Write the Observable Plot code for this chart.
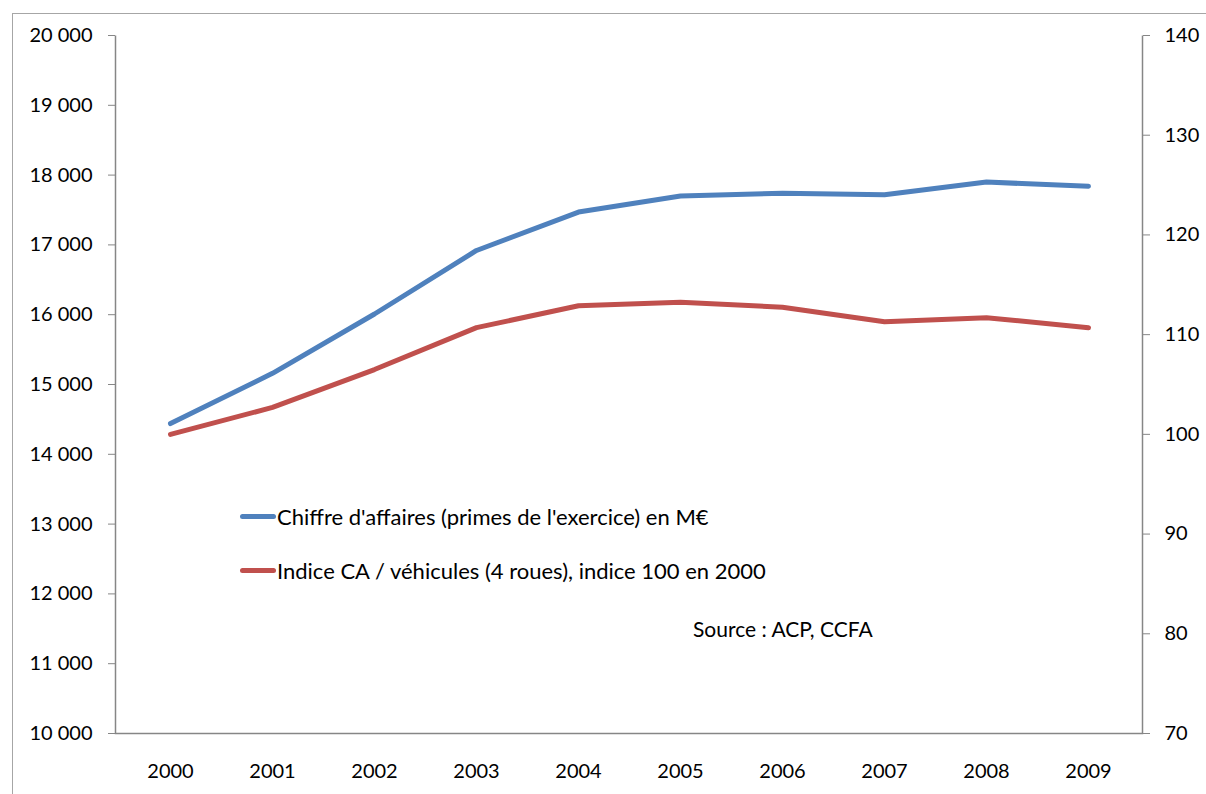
<!DOCTYPE html>
<html>
<head>
<meta charset="utf-8">
<script src="https://cdn.jsdelivr.net/npm/d3@7"></script>
<script src="https://cdn.jsdelivr.net/npm/@observablehq/plot@0.6"></script>
<style>
  html, body { margin: 0; padding: 0; background: #fff; }
  #wrap { position: relative; width: 1206px; height: 794px; overflow: hidden; font-family: Lato, "Open Sans", sans-serif; color: #000; }
  #frame { position: absolute; left: 12px; top: 13px; width: 1400px; height: 1000px; border: 1px solid #a6a6a6; box-sizing: border-box; pointer-events: none; }
  #chart { position: absolute; left: 0; top: 0; }
  .leg { position: absolute; left: 240px; font-size: 22px; white-space: nowrap; display: flex; align-items: center; height: 30px; }
  .sw { display: inline-block; width: 36px; height: 5px; border-radius: 3px; margin-right: 1px; }
  #source { position: absolute; left: 693px; top: 616px; font-size: 21px; white-space: nowrap; }
</style>
</head>
<body>
<div id="wrap">
  <div id="frame"></div>
  <div id="chart"></div>
  <div class="leg" id="leg1" style="top:501px"><span class="sw" style="background:#4F81BD"></span><span id="t1"></span></div>
  <div class="leg" id="leg2" style="top:555px"><span class="sw" style="background:#C0504D"></span><span id="t2"></span></div>
  <div id="source"></div>
</div>
<script>
const years = ["2000","2001","2002","2003","2004","2005","2006","2007","2008","2009"];
const chiffreAffaires = [14440, 15160, 16010, 16920, 17470, 17700, 17740, 17720, 17900, 17840];
const indiceCA = [100.0, 102.7, 106.5, 110.7, 112.9, 113.25, 112.75, 111.3, 111.7, 110.7];
const leftTicks = [10000, 11000, 12000, 13000, 14000, 15000, 16000, 17000, 18000, 19000, 20000];
const rightTicks = [70, 80, 90, 100, 110, 120, 130, 140];
const seriesNames = ["Chiffre d'affaires (primes de l'exercice) en M€", "Indice CA / véhicules (4 roues), indice 100 en 2000"];
const sourceText = "Source : ACP, CCFA";
const colors = ["#4F81BD", "#C0504D"];

// map right-axis values onto the left scale
const toLeft = v => 10000 + (v - 70) * 10000 / 70;
const toRight = y => 70 + (y - 10000) * 70 / 10000;

const blueData = years.map((y, i) => ({year: y, value: chiffreAffaires[i]}));
const redData = years.map((y, i) => ({year: y, value: toLeft(indiceCA[i])}));

const fmt = d => d3.format(",")(d).replace(/,/g, " ");

const W = 1206, H = 794;
const mL = 115, mR = 64, mT = 35, mB = 61;
const fw = W - mL - mR, fh = H - mT - mB;

const chart = Plot.plot({
  width: W,
  height: H,
  marginLeft: mL,
  marginRight: mR,
  marginTop: mT,
  marginBottom: mB,
  style: {fontFamily: "Lato, 'Open Sans', sans-serif", fontSize: "20px", color: "#000", background: "transparent"},
  x: {type: "point", domain: years, padding: 0.5},
  y: {domain: [10000, 20000]},
  marks: [
    Plot.frame({stroke: "#868686", strokeWidth: 1.5, strokeDasharray: `0 ${fw} ${2 * fh + fw} 0`}),
    Plot.axisY(leftTicks, {anchor: "left", tickSize: 7, tickPadding: 16, tickFormat: fmt, stroke: "#868686", fill: "#000", fontSize: 20, label: null}),
    Plot.axisY(rightTicks.map(toLeft), {anchor: "right", tickSize: 7, tickPadding: 15, tickFormat: d => String(Math.round(toRight(d))), stroke: "#868686", fill: "#000", fontSize: 20, label: null}),
    Plot.axisX({tickSize: 0, tickPadding: 30, fontSize: 20, fill: "#000", label: null}),
    Plot.line(blueData, {x: "year", y: "value", stroke: colors[0], strokeWidth: 5, strokeLinecap: "round", strokeLinejoin: "round"}),
    Plot.line(redData, {x: "year", y: "value", stroke: colors[1], strokeWidth: 5, strokeLinecap: "round", strokeLinejoin: "round"})
  ]
});
document.getElementById("chart").appendChild(chart);
document.getElementById("t1").textContent = seriesNames[0];
document.getElementById("t2").textContent = seriesNames[1];
document.getElementById("source").textContent = sourceText;
</script>
</body>
</html>
